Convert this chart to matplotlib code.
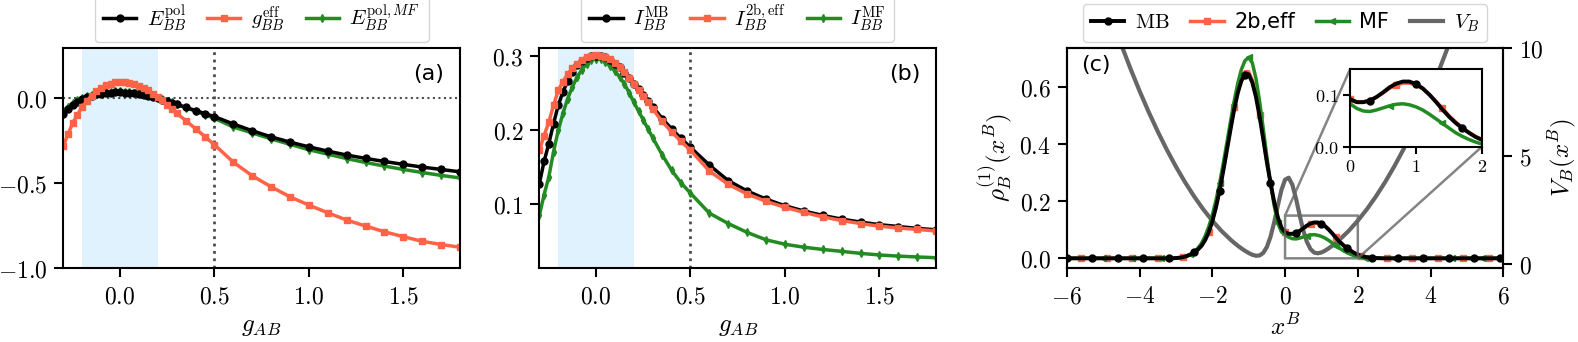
import numpy as np
import matplotlib.pyplot as plt
from matplotlib.ticker import FuncFormatter

plt.rcParams['mathtext.fontset'] = 'cm'
plt.rcParams['axes.linewidth'] = 1.5

# ---- panels (a), (b): coupling scan ----
g_ab = [-0.3, -0.275, -0.25, -0.225, -0.2, -0.175, -0.15, -0.125, -0.1, -0.075, -0.05, -0.025,
        0.0, 0.025, 0.05, 0.075, 0.1, 0.125, 0.15, 0.175, 0.2, 0.225, 0.25, 0.275, 0.3,
        0.35, 0.4, 0.45, 0.5,
        0.6, 0.7, 0.8, 0.9, 1.0, 1.1, 1.2, 1.3, 1.4, 1.5, 1.6, 1.7, 1.8]

e_pol = [-0.09, -0.06, -0.037, -0.018, -0.003, 0.008, 0.017, 0.024, 0.029, 0.033, 0.035, 0.036,
         0.036, 0.035, 0.033, 0.03, 0.026, 0.021, 0.015, 0.008, 0.0, -0.008, -0.017, -0.026, -0.035,
         -0.053, -0.071, -0.089, -0.107,
         -0.150, -0.19, -0.226, -0.257, -0.285, -0.31, -0.333, -0.353, -0.371, -0.388, -0.404, -0.418, -0.432]
g_eff = [-0.28, -0.21, -0.145, -0.095, -0.05, -0.015, 0.017, 0.042, 0.062, 0.077, 0.088, 0.095,
         0.098, 0.097, 0.093, 0.086, 0.076, 0.063, 0.047, 0.029, 0.01, -0.012, -0.037, -0.062, -0.087,
         -0.132, -0.178, -0.225, -0.272,
         -0.375, -0.455, -0.52, -0.579, -0.628, -0.673, -0.716, -0.751, -0.785, -0.814, -0.841, -0.86, -0.876]
e_pol_mf = [-0.075, -0.048, -0.027, -0.01, 0.004, 0.014, 0.022, 0.029, 0.034, 0.038, 0.04, 0.041,
            0.041, 0.04, 0.038, 0.035, 0.031, 0.026, 0.02, 0.013, 0.005, -0.004, -0.013, -0.023, -0.033,
            -0.054, -0.075, -0.096, -0.117,
            -0.168, -0.203, -0.238, -0.27, -0.302, -0.328, -0.354, -0.377, -0.398, -0.418, -0.436, -0.453, -0.468]

i_mb = [0.127, 0.157, 0.181, 0.208, 0.233, 0.251, 0.266, 0.278, 0.287, 0.293, 0.297, 0.299,
        0.300, 0.300, 0.298, 0.294, 0.289, 0.284, 0.277, 0.27, 0.262, 0.255, 0.247, 0.239, 0.231,
        0.215, 0.201, 0.188, 0.176,
        0.152, 0.131, 0.117, 0.106, 0.097, 0.090, 0.084, 0.079, 0.075, 0.0715, 0.069, 0.0665, 0.0645]
i_2b = [0.172, 0.192, 0.21, 0.233, 0.253, 0.265, 0.275, 0.283, 0.289, 0.294, 0.298, 0.3,
        0.301, 0.3, 0.298, 0.295, 0.29, 0.285, 0.278, 0.27, 0.262, 0.254, 0.246, 0.237, 0.228,
        0.211, 0.197, 0.184, 0.172,
        0.144, 0.126, 0.113, 0.103, 0.095, 0.088, 0.082, 0.077, 0.073, 0.0695, 0.067, 0.065, 0.063]
i_mf = [0.084, 0.112, 0.136, 0.17, 0.199, 0.222, 0.242, 0.258, 0.271, 0.281, 0.289, 0.294,
        0.296, 0.295, 0.291, 0.286, 0.279, 0.271, 0.262, 0.25, 0.237, 0.225, 0.213, 0.201, 0.189,
        0.166, 0.145, 0.128, 0.114,
        0.087, 0.073, 0.061, 0.051, 0.045, 0.041, 0.038, 0.0354, 0.0327, 0.0305, 0.029, 0.0278, 0.0268]

# ---- panel (c): one-body densities on x = -6 ... 6 (step 0.1) ----
x_dens = np.round(np.arange(-6.0, 6.05, 0.1), 1)
tail = [0.0] * 30   # x = -6.0 ... -3.1 and 3.1 ... 6.0
rho_mb = tail + [0.001, 0.002, 0.004, 0.008, 0.013, 0.021, 0.030, 0.043, 0.063, 0.091,
                 0.129, 0.178, 0.237, 0.305, 0.378, 0.451, 0.521, 0.580, 0.623, 0.645,
                 0.646, 0.617, 0.567, 0.498, 0.419, 0.338, 0.265, 0.199, 0.145, 0.108,
                 0.092, 0.086, 0.086, 0.089, 0.096, 0.105, 0.115, 0.122, 0.126, 0.126,
                 0.121, 0.113, 0.101, 0.087, 0.072, 0.058, 0.046, 0.036, 0.027, 0.019,
                 0.013, 0.008, 0.005, 0.003, 0.002, 0.001, 0.0005, 0.0, 0.0, 0.0, 0.0] + tail
rho_2b = tail + [0.001, 0.002, 0.004, 0.008, 0.013, 0.021, 0.031, 0.045, 0.065, 0.093,
                 0.131, 0.18, 0.24, 0.309, 0.383, 0.458, 0.53, 0.59, 0.633, 0.655,
                 0.655, 0.626, 0.574, 0.503, 0.422, 0.339, 0.264, 0.197, 0.143, 0.107,
                 0.092, 0.087, 0.087, 0.09, 0.096, 0.104, 0.113, 0.119, 0.123, 0.123,
                 0.119, 0.112, 0.101, 0.088, 0.074, 0.06, 0.048, 0.037, 0.028, 0.02,
                 0.014, 0.009, 0.005, 0.003, 0.002, 0.001, 0.0005, 0.0, 0.0, 0.0, 0.0] + tail
rho_mf = tail + [0.0015, 0.003, 0.005, 0.008, 0.014, 0.022, 0.035, 0.052, 0.077, 0.11,
                 0.151, 0.203, 0.263, 0.332, 0.405, 0.48, 0.551, 0.614, 0.663, 0.694,
                 0.705, 0.686, 0.632, 0.552, 0.456, 0.357, 0.265, 0.186, 0.124, 0.093,
                 0.083, 0.074, 0.069, 0.068, 0.071, 0.075, 0.079, 0.082, 0.083, 0.081,
                 0.077, 0.071, 0.063, 0.054, 0.045, 0.036, 0.027, 0.02, 0.014, 0.009,
                 0.005, 0.003, 0.0015, 0.0007, 0.0, 0.0, 0.0, 0.0, 0.0, 0.0, 0.0] + tail

# trap potential V_B
x_pot = [-4.6, -4.5, -4.25, -4.0, -3.75, -3.5, -3.25, -3.0, -2.75, -2.5, -2.25, -2.0, -1.75, -1.5,
         -1.4, -1.3, -1.2, -1.1, -1.0, -0.9, -0.8, -0.7, -0.6, -0.5, -0.4, -0.3, -0.2, -0.1,
         0.0, 0.1, 0.2, 0.3, 0.4, 0.5, 0.6, 0.7, 0.8, 0.9, 1.0, 1.1, 1.2, 1.3, 1.4, 1.5,
         1.75, 2.0, 2.25, 2.5, 2.75, 3.0, 3.25, 3.5, 3.75, 4.0, 4.25, 4.5, 4.6]
v_pot = [10.58, 10.125, 9.031, 8.0, 7.031, 6.125, 5.281, 4.5, 3.781, 3.125, 2.531, 2.0, 1.531, 1.125,
         0.98, 0.845, 0.72, 0.607, 0.507, 0.426, 0.38, 0.393, 0.51, 0.783, 1.252, 1.915, 2.688, 3.412,
         3.893, 3.985, 3.662, 3.027, 2.264, 1.557, 1.02, 0.686, 0.527, 0.492, 0.533, 0.616, 0.723, 0.846, 0.98, 1.125,
         1.531, 2.0, 2.531, 3.125, 3.781, 4.5, 5.281, 6.125, 7.031, 8.0, 9.031, 10.125, 10.58]

c_mb = 'k'
c_2b = '#ff6347'
c_mf = '#228b22'
c_pot = '#666666'

fmt1 = FuncFormatter(lambda v, p: '$%.1f$' % v)
fmt0 = FuncFormatter(lambda v, p: '$%d$' % round(v))
leg_kw = dict(loc='lower center', bbox_to_anchor=(0.5, 1.0), fontsize=15,
              handlelength=1.6, borderaxespad=0.25, columnspacing=1.0, handletextpad=0.5)


def style(ax, size=17):
    ax.tick_params(labelsize=size, length=6.5, width=1.5, pad=5)


fig = plt.figure(figsize=(15.78, 3.42), dpi=100)
ax_a = fig.add_axes([0.0401, 0.2155, 0.2514, 0.6456])
ax_b = fig.add_axes([0.3418, 0.2155, 0.2514, 0.6456])
ax_c = fig.add_axes([0.6760, 0.2155, 0.2767, 0.6456])

# (a)
ax = ax_a
ax.axvspan(-0.2, 0.2, color='#87cefa', alpha=0.25, lw=0)
ax.axvline(0.5, color='0.3', ls=':', lw=2)
ax.axhline(0.0, color='0.3', ls=':', lw=1.5)
l3, = ax.plot(g_ab, e_pol_mf, color=c_mf, lw=2.5, marker='d', ms=4)
l1, = ax.plot(g_ab, e_pol, color=c_mb, lw=2.5, marker='o', ms=5)
l2, = ax.plot(g_ab, g_eff, color=c_2b, lw=2.5, marker='s', ms=4.5)
ax.set_xlim(-0.3, 1.8)
ax.set_ylim(-1.0, 0.3)
ax.set_xticks([0.0, 0.5, 1.0, 1.5])
ax.set_yticks([-1.0, -0.5, 0.0])
ax.xaxis.set_major_formatter(fmt1)
ax.yaxis.set_major_formatter(fmt1)
ax.set_xlabel(r'$g_{AB}$', fontsize=18)
ax.text(0.92, 0.88, '(a)', transform=ax.transAxes, fontsize=16, ha='center', va='center')
ax.legend([l1, l2, l3], [r'$E_{BB}^{\rm pol}$', r'$g_{BB}^{\rm eff}$', r'$E_{BB}^{{\rm pol},MF}$'],
          ncol=3, **leg_kw)
style(ax)

# (b)
ax = ax_b
ax.axvspan(-0.2, 0.2, color='#87cefa', alpha=0.25, lw=0)
ax.axvline(0.5, color='0.3', ls=':', lw=2)
l3, = ax.plot(g_ab, i_mf, color=c_mf, lw=2.5, marker='d', ms=4)
l1, = ax.plot(g_ab, i_mb, color=c_mb, lw=2.5, marker='o', ms=5)
l2, = ax.plot(g_ab, i_2b, color=c_2b, lw=2.5, marker='s', ms=4.5)
ax.set_xlim(-0.3, 1.8)
ax.set_ylim(0.0125, 0.311)
ax.set_xticks([0.0, 0.5, 1.0, 1.5])
ax.set_yticks([0.1, 0.2, 0.3])
ax.xaxis.set_major_formatter(fmt1)
ax.yaxis.set_major_formatter(fmt1)
ax.set_xlabel(r'$g_{AB}$', fontsize=18)
ax.text(0.92, 0.88, '(b)', transform=ax.transAxes, fontsize=16, ha='center', va='center')
ax.legend([l1, l2, l3], [r'$I_{BB}^{\rm MB}$', r'$I_{BB}^{\rm 2b,eff}$', r'$I_{BB}^{\rm MF}$'],
          ncol=3, **leg_kw)
style(ax)

# (c)
ax = ax_c
ax2 = ax.twinx()
ax.set_zorder(ax2.get_zorder() + 1)
ax.patch.set_visible(False)
lp, = ax2.plot(x_pot, v_pot, color=c_pot, lw=3)
ax2.set_ylim(-0.2, 10)
ax2.set_yticks([0, 5, 10])
ax2.yaxis.set_major_formatter(fmt0)
ax2.set_ylabel(r'$V_B(x^B)$', fontsize=18, labelpad=2)
style(ax2)

l2, = ax.plot(x_dens, rho_2b, color=c_2b, lw=2.5, marker='s', ms=5, markevery=(4, 7))
l3, = ax.plot(x_dens, rho_mf, color=c_mf, lw=2.5, marker='<', ms=5, markevery=(10, 8))
l1, = ax.plot(x_dens, rho_mb, color=c_mb, lw=2.8, marker='o', ms=5, markevery=(0, 7))
ax.set_xlim(-6, 6)
ax.set_ylim(-0.035, 0.74)
ax.set_xticks([-6, -4, -2, 0, 2, 4, 6])
ax.set_yticks([0.0, 0.2, 0.4, 0.6])
ax.xaxis.set_major_formatter(fmt0)
ax.yaxis.set_major_formatter(fmt1)
ax.set_xlabel(r'$x^B$', fontsize=18)
ax.set_ylabel(r'$\rho_B^{(1)}(x^B)$', fontsize=18)
ax.text(0.067, 0.92, '(c)', transform=ax.transAxes, fontsize=16, ha='center', va='center')
ax.legend([l1, l2, l3, lp], [r'$\rm MB$', '2b,eff', 'MF', r'$V_B$'], ncol=4, **leg_kw)
style(ax)

axins = ax.inset_axes([0.649, 0.551, 0.302, 0.351])
axins.plot(x_dens, rho_2b, color=c_2b, lw=2.5, marker='s', ms=5, markevery=(4, 7))
axins.plot(x_dens, rho_mf, color=c_mf, lw=2.5, marker='<', ms=5, markevery=(10, 8))
axins.plot(x_dens, rho_mb, color=c_mb, lw=2.8, marker='o', ms=5, markevery=(0, 7))
axins.set_xlim(0, 2)
axins.set_ylim(0, 0.15)
axins.set_xticks([0, 1, 2])
axins.set_yticks([0.0, 0.1])
axins.xaxis.set_major_formatter(fmt0)
axins.yaxis.set_major_formatter(fmt1)
axins.tick_params(labelsize=13, length=5, width=1.5)
ax.indicate_inset_zoom(axins, edgecolor='0.4', linewidth=1.8, alpha=0.8)

fig.savefig('out.png', dpi=100)
